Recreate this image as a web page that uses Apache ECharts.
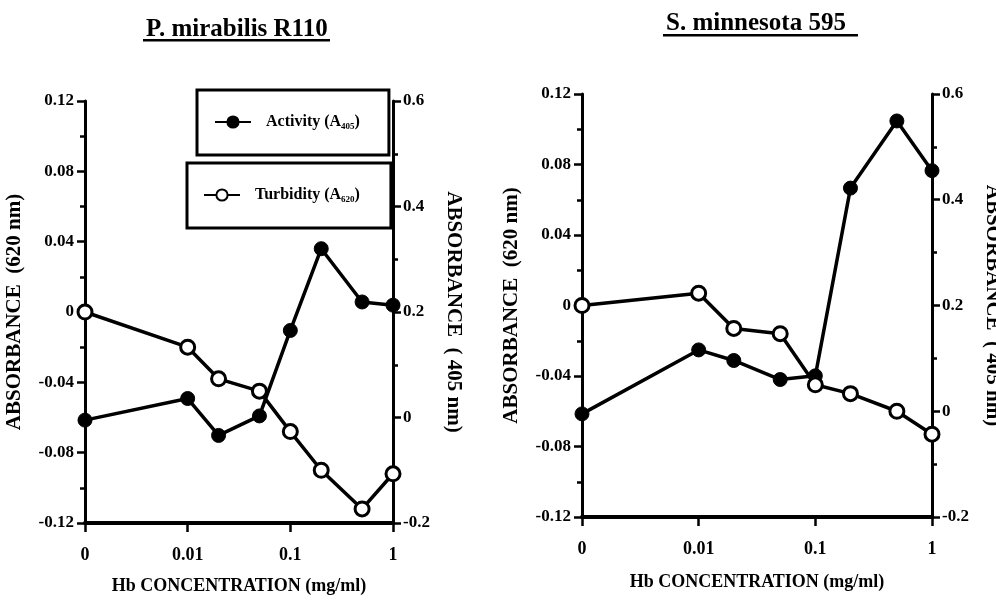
<!DOCTYPE html>
<html>
<head>
<meta charset="utf-8">
<script src="https://cdn.jsdelivr.net/npm/echarts@6/dist/echarts.min.js"></script>
<style>
  html, body { margin: 0; padding: 0; background: #fff; }
  #chart { width: 996px; height: 603px; }
</style>
</head>
<body>
<div id="chart"></div>
<script>
// Hb concentration (mg/ml); the "0" control is placed at the left end of the log axis (0.001)
const hbConc = [0.001, 0.01, 0.02, 0.05, 0.1, 0.2, 0.5, 1];
const xTickLabels = { '-3': '0', '-2': '0.01', '-1': '0.1', '0': '1' };

// P. mirabilis R110
const pmActivity  = [-0.005, 0.036, -0.034, 0.003, 0.165, 0.320, 0.219, 0.213];   // A405 (right axis)
const pmTurbidity = [0.000, -0.020, -0.038, -0.045, -0.068, -0.090, -0.112, -0.092]; // A620 (left axis)

// S. minnesota 595
const smActivity  = [-0.005, 0.116, 0.096, 0.060, 0.067, 0.422, 0.549, 0.455];
const smTurbidity = [0.000, 0.007, -0.013, -0.016, -0.045, -0.050, -0.060, -0.073];

const titles = ['P. mirabilis R110', 'S. minnesota 595'];
const leftAxisName = 'ABSORBANCE  (620 nm)';
const rightAxisName = 'ABSORBANCE  ( 405 nm)';
const xAxisName = 'Hb CONCENTRATION (mg/ml)';

const FONT = '"Liberation Serif", "DejaVu Serif", serif';
const pair = (xs, ys) => xs.map((x, i) => [x, ys[i]]);

function xAxis(gridIndex, nameGap) {
  return {
    type: 'log', logBase: 10, min: 0.001, max: 1, gridIndex,
    name: xAxisName, nameLocation: 'middle', nameGap,
    nameTextStyle: { fontFamily: FONT, fontWeight: 'bold', fontSize: 18, color: '#000' },
    axisLine: { onZero: false, lineStyle: { color: '#000', width: 4 } },
    axisTick: { show: true, length: 9, lineStyle: { width: 2.5, color: '#000' } },
    minorTick: { show: false },
    splitLine: { show: false },
    axisLabel: {
      margin: 23, fontFamily: FONT, fontWeight: 'bold', fontSize: 18, color: '#000',
      formatter: v => xTickLabels[String(Math.round(Math.log10(v)))] ?? ''
    }
  };
}
function yLeft(gridIndex) {
  return {
    type: 'value', gridIndex, position: 'left', min: -0.12, max: 0.12, interval: 0.04,
    name: leftAxisName, nameLocation: 'middle', nameGap: 60, nameRotate: 90,
    nameTextStyle: { fontFamily: FONT, fontWeight: 'bold', fontSize: 21, color: '#000' },
    axisLine: { show: true, onZero: false, lineStyle: { color: '#000', width: 3 } },
    axisTick: { show: true, length: 8, lineStyle: { width: 2.5, color: '#000' } },
    minorTick: { show: true, splitNumber: 2, length: 5, lineStyle: { width: 2.5, color: '#000' } },
    splitLine: { show: false },
    axisLabel: { margin: 11, fontFamily: FONT, fontWeight: 'bold', fontSize: 17, color: '#000' }
  };
}
function yRight(gridIndex) {
  return {
    type: 'value', gridIndex, position: 'right', min: -0.2, max: 0.6, interval: 0.2,
    name: rightAxisName, nameLocation: 'middle', nameGap: 50, nameRotate: -90,
    nameTextStyle: { fontFamily: FONT, fontWeight: 'bold', fontSize: 21, color: '#000' },
    axisLine: { show: true, onZero: false, lineStyle: { color: '#000', width: 3 } },
    axisTick: { show: true, length: 8, lineStyle: { width: 2.5, color: '#000' } },
    minorTick: { show: true, splitNumber: 2, length: 5, lineStyle: { width: 2.5, color: '#000' } },
    splitLine: { show: false },
    axisLabel: { margin: 10, fontFamily: FONT, fontWeight: 'bold', fontSize: 17, color: '#000' }
  };
}
function activitySeries(xi, yi, data) {
  return {
    name: 'Activity', type: 'line', xAxisIndex: xi, yAxisIndex: yi, data,
    symbol: 'circle', symbolSize: 14, z: 3,
    lineStyle: { color: '#000', width: 3.5 },
    itemStyle: { color: '#000', borderColor: '#000', borderWidth: 1 }
  };
}
function turbiditySeries(xi, yi, data) {
  return {
    name: 'Turbidity', type: 'line', xAxisIndex: xi, yAxisIndex: yi, data,
    symbol: 'circle', symbolSize: 14, z: 4,
    lineStyle: { color: '#000', width: 3.5 },
    itemStyle: { color: '#fff', borderColor: '#000', borderWidth: 3 }
  };
}

const legendText = {
  fontFamily: FONT, fontWeight: 'bold', fontSize: 16, color: '#000', padding: [0, 0, 0, 10],
  rich: {
    a: { fontFamily: FONT, fontWeight: 'bold', fontSize: 16, color: '#000' },
    s: { fontFamily: FONT, fontWeight: 'bold', fontSize: 9, color: '#000', padding: [9, 0, 0, 0] }
  }
};
const legendSub = { Activity: '405', Turbidity: '620' };

const chart = echarts.init(document.getElementById('chart'), null, { renderer: 'canvas' });
chart.setOption({
  backgroundColor: '#fff',
  animation: false,
  title: [
    { text: titles[0], left: 141, top: 12, textStyle: { fontFamily: FONT, fontWeight: 'bold', fontSize: 25, color: '#000' } },
    { text: titles[1], left: 661, top: 6, textStyle: { fontFamily: FONT, fontWeight: 'bold', fontSize: 25, color: '#000' } }
  ],
  graphic: [
    { type: 'rect', shape: { x: 143, y: 39, width: 187, height: 2.5 }, style: { fill: '#000' } },
    { type: 'rect', shape: { x: 663, y: 34, width: 195, height: 2.5 }, style: { fill: '#000' } }
  ],
  legend: [
    {
      data: ['Activity'], left: 197, top: 90, orient: 'vertical',
      padding: [24, 29, 24, 17], borderColor: '#000', borderWidth: 3, backgroundColor: '#fff',
      itemWidth: 36, itemHeight: 14, itemGap: 0, textStyle: legendText,
      formatter: n => `{a|${n} (A}{s|${legendSub[n]}}{a|)}`
    },
    {
      data: ['Turbidity'], left: 187, top: 163, orient: 'vertical',
      padding: [24, 31, 24, 16], borderColor: '#000', borderWidth: 3, backgroundColor: '#fff',
      itemWidth: 36, itemHeight: 14, itemGap: 0, textStyle: legendText,
      formatter: n => `{a|${n} (A}{s|${legendSub[n]}}{a|)}`
    }
  ],
  grid: [
    { left: 85, right: 603, top: 101, bottom: 80, outerBoundsMode: 'none', containLabel: false },
    { left: 582, right: 64, top: 94, bottom: 86, outerBoundsMode: 'none', containLabel: false }
  ],
  xAxis: [xAxis(0, 54), xAxis(1, 56)],
  yAxis: [yLeft(0), yRight(0), yLeft(1), yRight(1)],
  series: [
    activitySeries(0, 1, pair(hbConc, pmActivity)),
    turbiditySeries(0, 0, pair(hbConc, pmTurbidity)),
    activitySeries(1, 3, pair(hbConc, smActivity)),
    turbiditySeries(1, 2, pair(hbConc, smTurbidity))
  ]
});
</script>
</body>
</html>
